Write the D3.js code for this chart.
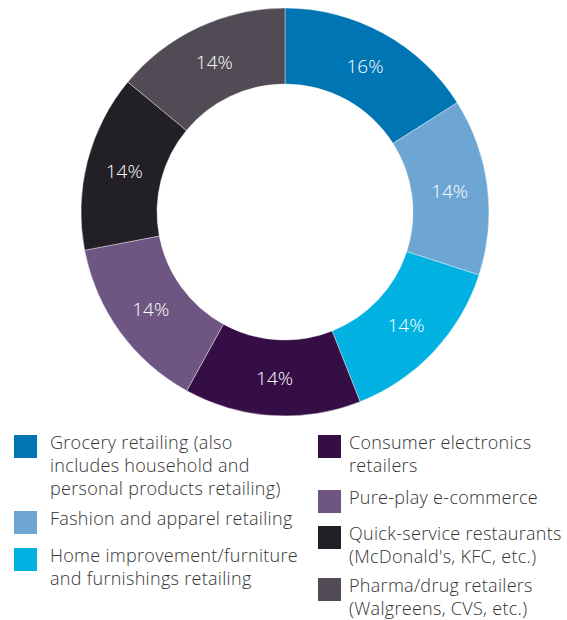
<!DOCTYPE html>
<html>
<head>
<meta charset="utf-8">
<script src="https://cdn.jsdelivr.net/npm/d3@7"></script>
<style>
  html, body { margin: 0; padding: 0; background: #fff; }
  svg { display: block; }
</style>
</head>
<body>
<svg id="chart" width="567" height="620"></svg>
<script>
const categories = [
  "Grocery retailing (also includes household and personal products retailing)",
  "Fashion and apparel retailing",
  "Home improvement/furniture and furnishings retailing",
  "Consumer electronics retailers",
  "Pure-play e-commerce",
  "Quick-service restaurants (McDonald's, KFC, etc.)",
  "Pharma/drug retailers (Walgreens, CVS, etc.)"
];
const values = [16, 14, 14, 14, 14, 14, 14];
const colors = ["#0075B4", "#6EA6D3", "#00B1E1", "#360E46", "#6F5682", "#221F27", "#514B55"];
const legendLines = [
  ["Grocery retailing (also", "includes household and", "personal products retailing)"],
  ["Fashion and apparel retailing"],
  ["Home improvement/furniture", "and furnishings retailing"],
  ["Consumer electronics", "retailers"],
  ["Pure-play e-commerce"],
  ["Quick-service restaurants", "(McDonald's, KFC, etc.)"],
  ["Pharma/drug retailers", "(Walgreens, CVS, etc.)"]
];

const svg = d3.select("#chart");
const cx = 285, cy = 212, rOuter = 204, rInner = 128;

const data = categories.map((c, i) => ({ name: c, value: values[i], color: colors[i], lines: legendLines[i] }));

const pie = d3.pie().value(d => d.value).sort(null);
const arc = d3.arc().innerRadius(rInner).outerRadius(rOuter);
const arcs = pie(data);

const g = svg.append("g").attr("transform", `translate(${cx},${cy})`);
g.selectAll("path.slice").data(arcs).join("path")
  .attr("class", "slice")
  .attr("d", arc)
  .attr("fill", d => d.data.color)
  .attr("stroke", "#fff")
  .attr("stroke-width", 0.4);

g.selectAll("text.lbl").data(arcs).join("text")
  .attr("class", "lbl")
  .attr("transform", d => `translate(${arc.centroid(d)})`)
  .attr("text-anchor", "middle")
  .attr("dy", "0.36em")
  .attr("fill", "#fff")
  .attr("font-family", "'Open Sans', sans-serif")
  .attr("font-weight", 300)
  .attr("font-size", 19)
  .text(d => d.data.value + "%");

// Legend
const colX = [14, 318];
const textOff = [36, 31];
const rowTop = [435, 511, 548, 435, 490, 526, 578];
const colIdx = [0, 0, 0, 1, 1, 1, 1];
const lineH = 23;

const leg = svg.append("g");
data.forEach((d, i) => {
  const c = colIdx[i];
  const x = colX[c], y = rowTop[i];
  leg.append("rect").attr("x", x).attr("y", y).attr("width", 23).attr("height", 23).attr("fill", d.color);
  const t = leg.append("text")
    .attr("font-family", "'Open Sans', sans-serif")
    .attr("font-weight", 300)
    .attr("font-size", 18)
    .attr("letter-spacing", 0.3)
    .attr("fill", "#333");
  d.lines.forEach((ln, j) => {
    t.append("tspan").attr("x", x + textOff[c]).attr("y", y + 13.5 + j * lineH).text(ln);
  });
});
</script>
</body>
</html>
